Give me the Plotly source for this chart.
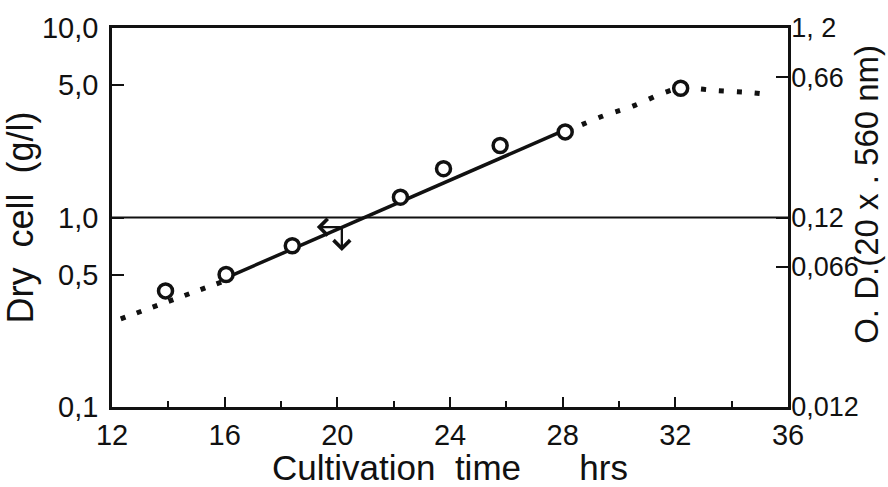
import numpy as np
import plotly.graph_objects as go

# Dry cell concentration measured during cultivation (g/l)
time_h = [13.9, 16.05, 18.4, 22.24, 23.77, 25.78, 28.09, 32.19]
dry_cell = [0.41, 0.50, 0.71, 1.28, 1.81, 2.40, 2.83, 4.81]

# Log-linear regression over the exponential phase
fit_time = [16.05, 28.09]
fit_cell = [0.48, 2.90]

# Dotted trend lines outside the exponential phase
lag_time = [12.31, 16.05]
lag_cell = [0.292, 0.466]
late_time = [28.09, 29.45, 30.49, 31.61, 32.19, 33.5, 34.7, 35.24]
late_cell = [2.83, 3.44, 3.87, 4.56, 4.81, 4.67, 4.56, 4.47]

# Horizontal reference level at 1.0 g/l
ref_time = [12, 36]
ref_cell = [1.0, 1.0]

# Arrow marker on the regression line (tail point, left head, lower head)
arrow_tail = (20.16, 0.89)
arrow_left = (19.27, 0.89)
arrow_down = (20.16, 0.665)

# Axis ticks
x_ticks = [12, 16, 20, 24, 28, 32, 36]
x_labels = ["12", "16", "20", "24", "28", "32", "36"]
left_ticks = [0.1, 0.5, 1.0, 5.0, 10.0]
left_labels = ["0,1", "0,5", "1,0", "5,0", "10,0"]
right_ticks = [0.012, 0.066, 0.12, 0.66, 1.2]
right_labels = ["0,012", "0,066", "0,12", "0,66", "1, 2"]

FONT = "Liberation Sans, Arial, sans-serif"
INK = "#111111"
TICK_FS = 29
TITLE_FS = 35

fig = go.Figure()

fig.add_trace(go.Scatter(x=ref_time, y=ref_cell, mode="lines",
                         line=dict(color=INK, width=2), hoverinfo="skip"))
fig.add_trace(go.Scatter(x=lag_time, y=lag_cell, mode="lines",
                         line=dict(color=INK, width=5, dash="5px,12px"), hoverinfo="skip"))
fig.add_trace(go.Scatter(x=late_time, y=late_cell, mode="lines", line_shape="spline",
                         line=dict(color=INK, width=5, dash="5px,13px"), hoverinfo="skip"))
fig.add_trace(go.Scatter(x=fit_time, y=fit_cell, mode="lines",
                         line=dict(color=INK, width=3.5), hoverinfo="skip"))
fig.add_trace(go.Scatter(x=time_h, y=dry_cell, mode="markers",
                         marker=dict(symbol="circle", size=14, color="white",
                                     line=dict(color=INK, width=3.5))))
# carrier trace so the right-hand O.D. axis is drawn
fig.add_trace(go.Scatter(x=[12], y=[0.12], yaxis="y2", mode="markers",
                         marker=dict(opacity=0), hoverinfo="skip"))

for head in (arrow_left, arrow_down):
    fig.add_annotation(x=head[0], y=np.log10(head[1]),
                       ax=arrow_tail[0], ay=np.log10(arrow_tail[1]),
                       xref="x", yref="y", axref="x", ayref="y",
                       text="", showarrow=True, arrowhead=4,
                       arrowsize=1.4, arrowwidth=2.3, arrowcolor=INK)

# right-hand axis title placed as free text
fig.add_annotation(text="O. D.(20 x . 560 nm)", xref="paper", yref="paper",
                   x=1.117, y=0.56, textangle=-90, showarrow=False,
                   xanchor="center", yanchor="middle",
                   font=dict(family=FONT, size=TITLE_FS - 2, color=INK))

fig.update_layout(
    width=888, height=487,
    margin=dict(l=112, r=100, t=28, b=80),
    paper_bgcolor="white", plot_bgcolor="white",
    showlegend=False,
    font=dict(family=FONT, size=TICK_FS, color=INK),
    xaxis=dict(
        range=[12, 36], tickvals=x_ticks, ticktext=x_labels,
        ticks="inside", ticklen=10, tickwidth=2.2, tickcolor=INK,
        minor=dict(dtick=2, tick0=12, ticks="inside", ticklen=6, tickwidth=2.2, tickcolor=INK),
        showline=True, linewidth=2.5, linecolor=INK, mirror=True,
        showgrid=False, zeroline=False, automargin=False,
        title=dict(text="Cultivation  time      hrs", standoff=0,
                   font=dict(family=FONT, size=TITLE_FS, color=INK)),
    ),
    yaxis=dict(
        type="log", range=[-1, 1], tickvals=left_ticks, ticktext=left_labels,
        ticks="inside", ticklen=12, tickwidth=2.2, tickcolor=INK,
        ticklabelstandoff=5,
        showline=True, linewidth=2.5, linecolor=INK,
        showgrid=False, zeroline=False, automargin=False,
        title=dict(text="Dry  cell  (g/l)", standoff=0,
                   font=dict(family=FONT, size=TITLE_FS + 1, color=INK)),
    ),
    yaxis2=dict(
        type="log", overlaying="y", side="right",
        range=[np.log10(0.012), np.log10(1.2)],
        tickvals=right_ticks, ticktext=right_labels,
        tickfont=dict(family=FONT, size=TICK_FS - 2, color=INK),
        ticks="inside", ticklen=12, tickwidth=2.2, tickcolor=INK,
        ticklabelstandoff=-5,
        showline=True, linewidth=2.5, linecolor=INK,
        showgrid=False, zeroline=False, automargin=False,
    ),
)

fig.write_html("out.html")
